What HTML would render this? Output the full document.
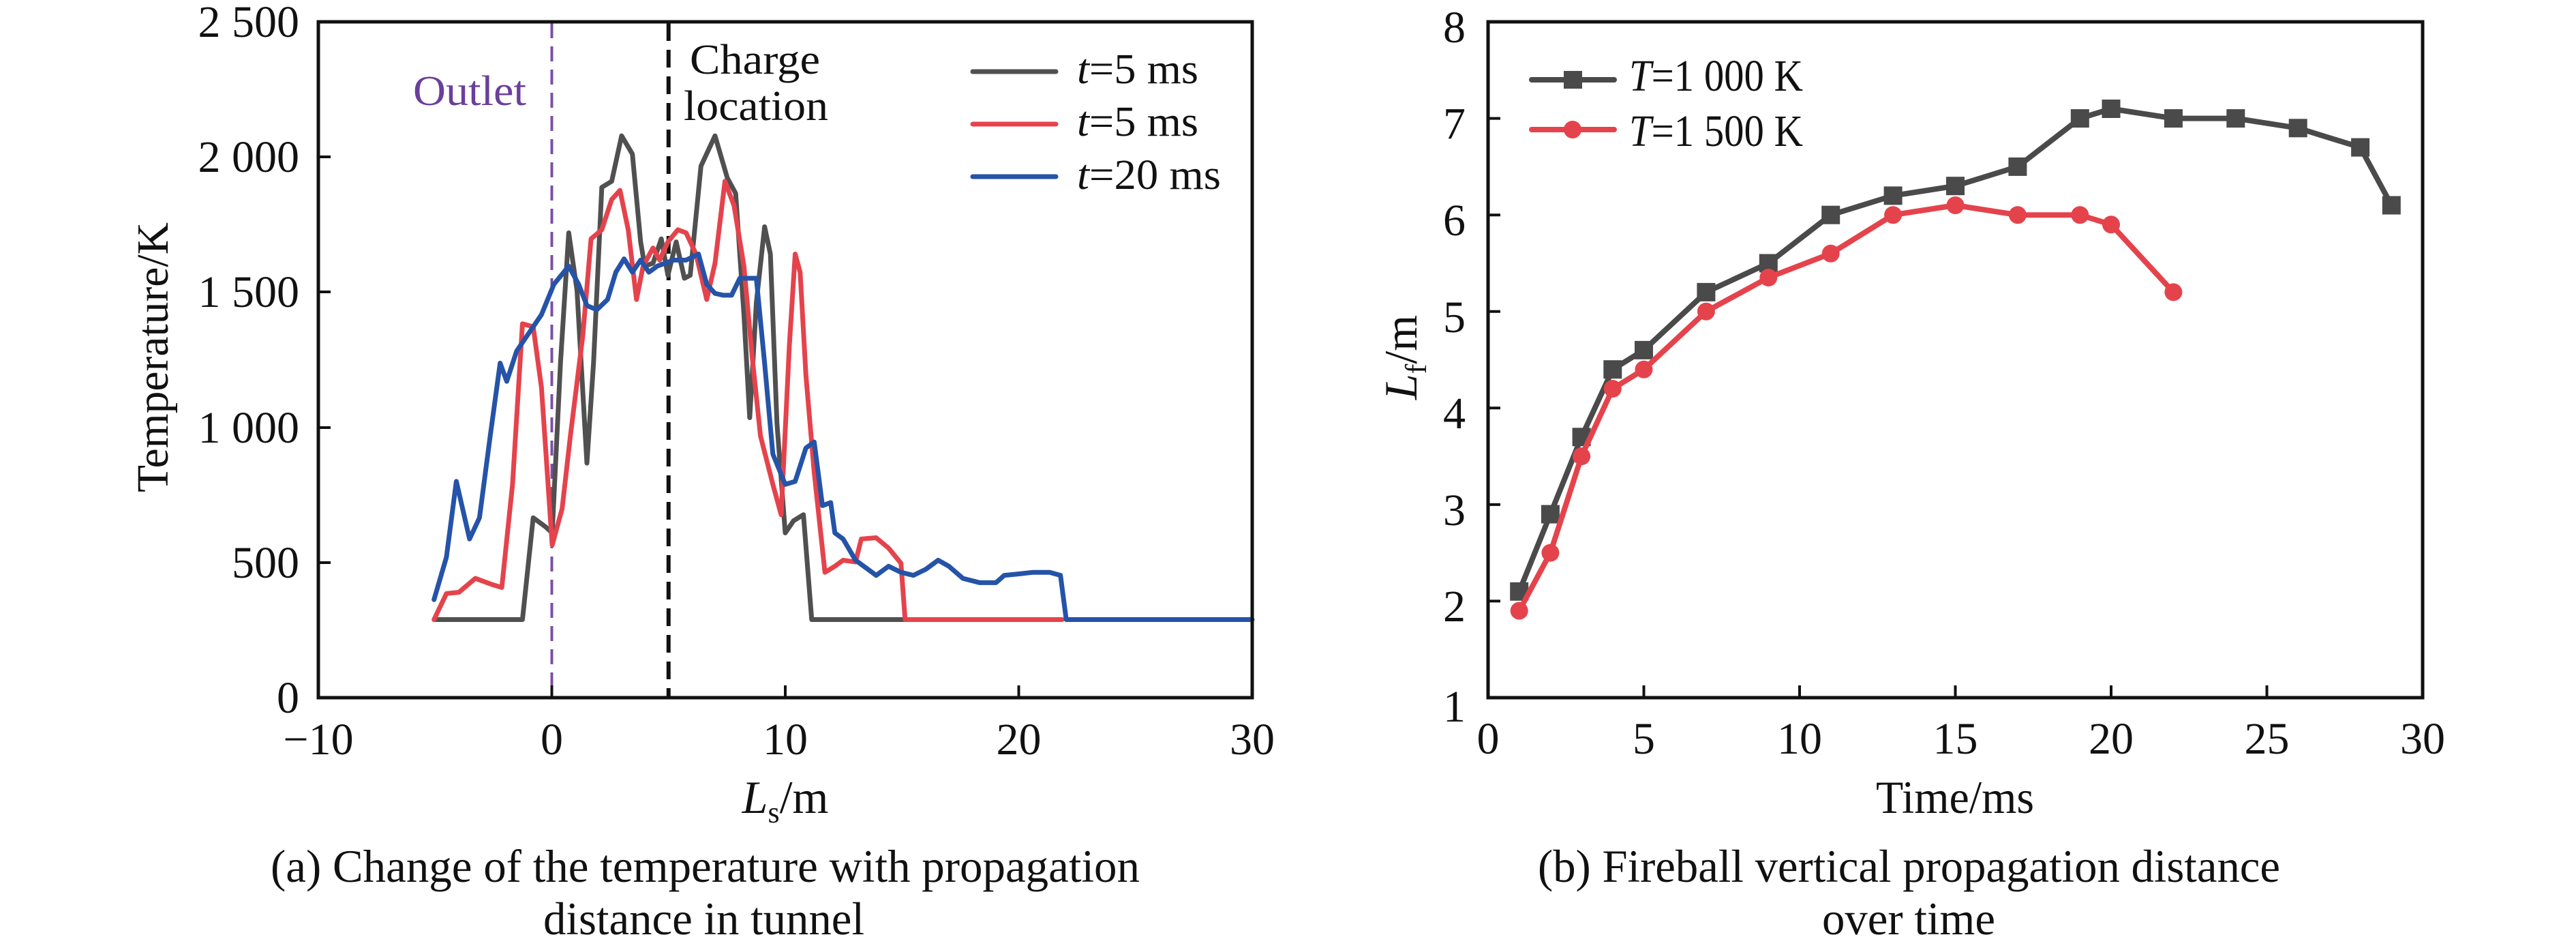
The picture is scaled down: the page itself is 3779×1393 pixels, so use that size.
<!DOCTYPE html>
<html><head><meta charset="utf-8"><style>
html,body{margin:0;padding:0;background:#fff;}
svg{display:block;}
text{font-family:"Liberation Serif",serif;fill:#111;}
</style></head><body>
<svg width="3779" height="1393" viewBox="0 0 3779 1393" xmlns="http://www.w3.org/2000/svg">
<rect width="3779" height="1393" fill="#fff"/>

<line x1="809.5" y1="34" x2="809.5" y2="1021" stroke="#7b4fa6" stroke-width="4" stroke-dasharray="22,12"/>
<line x1="980.75" y1="34" x2="980.75" y2="1021" stroke="#111" stroke-width="6" stroke-dasharray="26,13"/>

<g transform="matrix(1.2124 0 0 0.889 0.2 -0.9)" fill="none" stroke-linejoin="round" stroke-linecap="round">
<path vector-effect="non-scaling-stroke" stroke="#505050" stroke-width="7" d="M527,1023 L632,1023 L645,855 L660,870 L668,880 L678,600 L688,385 L698,480 L710,765 L718,600 L728,310 L740,300 L752,225 L765,255 L775,400 L780,440 L790,435 L800,395 L808,455 L818,400 L828,460 L835,455 L848,275 L865,225 L880,295 L890,320 L900,520 L907,690 L915,500 L925,375 L932,420 L940,700 L950,880 L960,860 L972,850 L982,1023 L1095,1023"/>
<path vector-effect="non-scaling-stroke" stroke="#e5434c" stroke-width="7" d="M525,1023 L540,980 L555,978 L575,955 L595,965 L607,970 L620,800 L632,535 L645,540 L655,640 L668,900 L680,840 L690,720 L705,555 L715,395 L728,380 L740,330 L750,315 L760,380 L770,495 L778,440 L790,410 L798,430 L808,400 L820,380 L830,385 L842,420 L855,495 L865,435 L877,300 L888,340 L900,440 L910,590 L920,720 L935,800 L945,850 L955,570 L962,420 L968,450 L975,620 L985,780 L998,945 L1010,935 L1020,925 L1035,928 L1042,890 L1060,888 L1075,905 L1090,930 L1095,1023 L1285,1023"/>
<path vector-effect="non-scaling-stroke" stroke="#2553a8" stroke-width="7" d="M525,990 L540,920 L552,795 L568,890 L580,855 L593,720 L605,600 L613,630 L625,580 L640,550 L655,520 L670,470 L688,440 L700,470 L710,505 L722,512 L735,495 L745,450 L755,428 L765,450 L775,430 L785,450 L795,440 L805,435 L815,430 L830,430 L845,420 L855,470 L865,485 L875,488 L885,488 L895,460 L915,460 L925,600 L935,750 L950,800 L962,795 L975,740 L985,730 L995,835 L1005,830 L1010,880 L1020,890 L1035,925 L1050,940 L1060,950 L1075,935 L1090,945 L1105,950 L1120,940 L1135,925 L1148,935 L1165,955 L1185,962 L1205,962 L1215,950 L1230,948 L1250,945 L1270,945 L1283,950 L1290,1023 L1515,1023"/>
</g>

<rect x="467" y="32" width="1370" height="991" fill="none" stroke="#111" stroke-width="5"/>
<g stroke="#111" stroke-width="4">
<line x1="809.5" y1="1023" x2="809.5" y2="1005"/>
<line x1="1152" y1="1023" x2="1152" y2="1005"/>
<line x1="1494.5" y1="1023" x2="1494.5" y2="1005"/>
<line x1="467" y1="825" x2="485" y2="825"/>
<line x1="467" y1="627" x2="485" y2="627"/>
<line x1="467" y1="428" x2="485" y2="428"/>
<line x1="467" y1="230" x2="485" y2="230"/>
</g>
<g font-size="66" text-anchor="end">
<text x="439" y="1045">0</text>
<text x="439" y="847">500</text>
<text x="439" y="649">1 000</text>
<text x="439" y="450">1 500</text>
<text x="439" y="252">2 000</text>
<text x="439" y="54">2 500</text>
</g>
<g font-size="66" text-anchor="middle">
<text x="467" y="1106">−10</text>
<text x="809.5" y="1106">0</text>
<text x="1152" y="1106">10</text>
<text x="1494.5" y="1106">20</text>
<text x="1837" y="1106">30</text>
</g>
<text x="1152" y="1192" font-size="68" text-anchor="middle"><tspan font-style="italic">L</tspan><tspan font-size="44" dy="14">s</tspan><tspan dy="-14">/m</tspan></text>
<text transform="translate(246,524) rotate(-90)" font-size="66" text-anchor="middle" textLength="396" lengthAdjust="spacingAndGlyphs">Temperature/K</text>

<text x="606" y="154" font-size="62" style="fill:#6a3f9c" textLength="166" lengthAdjust="spacingAndGlyphs">Outlet</text>
<text x="1012" y="108" font-size="62" textLength="191" lengthAdjust="spacingAndGlyphs">Charge</text>
<text x="1003" y="176" font-size="62" textLength="212" lengthAdjust="spacingAndGlyphs">location</text>

<g stroke-width="7" stroke-linecap="round">
<line x1="1427" y1="105" x2="1549" y2="105" stroke="#505050"/>
<line x1="1427" y1="182" x2="1549" y2="182" stroke="#e5434c"/>
<line x1="1427" y1="259" x2="1549" y2="259" stroke="#2553a8"/>
</g>
<g font-size="62">
<text x="1580" y="122" textLength="178" lengthAdjust="spacingAndGlyphs"><tspan font-style="italic">t</tspan>=5 ms</text>
<text x="1580" y="199" textLength="178" lengthAdjust="spacingAndGlyphs"><tspan font-style="italic">t</tspan>=5 ms</text>
<text x="1580" y="277" textLength="211" lengthAdjust="spacingAndGlyphs"><tspan font-style="italic">t</tspan>=20 ms</text>
</g>

<text x="397" y="1293" font-size="68" textLength="1275" lengthAdjust="spacingAndGlyphs">(a) Change of the temperature with propagation</text>
<text x="797" y="1370" font-size="68" textLength="471" lengthAdjust="spacingAndGlyphs">distance in tunnel</text>

<rect x="2183" y="32" width="1371" height="991" fill="none" stroke="#111" stroke-width="5"/>
<g stroke="#111" stroke-width="4">
<line x1="2411.5" y1="1023" x2="2411.5" y2="1005"/>
<line x1="2640" y1="1023" x2="2640" y2="1005"/>
<line x1="2868.5" y1="1023" x2="2868.5" y2="1005"/>
<line x1="3097" y1="1023" x2="3097" y2="1005"/>
<line x1="3325.5" y1="1023" x2="3325.5" y2="1005"/>
<line x1="2183" y1="881.4" x2="2201" y2="881.4"/>
<line x1="2183" y1="739.9" x2="2201" y2="739.9"/>
<line x1="2183" y1="598.3" x2="2201" y2="598.3"/>
<line x1="2183" y1="456.7" x2="2201" y2="456.7"/>
<line x1="2183" y1="315.2" x2="2201" y2="315.2"/>
<line x1="2183" y1="173.6" x2="2201" y2="173.6"/>
</g>
<g font-size="66" text-anchor="end">
<text x="2150" y="1058">1</text>
<text x="2150" y="911">2</text>
<text x="2150" y="770">3</text>
<text x="2150" y="628">4</text>
<text x="2150" y="487">5</text>
<text x="2150" y="345">6</text>
<text x="2150" y="203">7</text>
<text x="2150" y="62">8</text>
</g>
<g font-size="66" text-anchor="middle">
<text x="2183" y="1105">0</text>
<text x="2411.5" y="1105">5</text>
<text x="2640" y="1105">10</text>
<text x="2868.5" y="1105">15</text>
<text x="3097" y="1105">20</text>
<text x="3325.5" y="1105">25</text>
<text x="3554" y="1105">30</text>
</g>
<text x="2868" y="1192" font-size="68" text-anchor="middle" textLength="232" lengthAdjust="spacingAndGlyphs">Time/ms</text>
<text transform="translate(2078,524) rotate(-90)" font-size="68" text-anchor="middle"><tspan font-style="italic">L</tspan><tspan font-size="44" dy="14">f</tspan><tspan dy="-14">/m</tspan></text>

<polyline fill="none" stroke="#4a4a4a" stroke-width="8" stroke-linejoin="round" points="2228.7,867.3 2274.4,754 2320.1,640.8 2365.8,541.7 2411.5,513.4 2502.9,428.4 2594.3,386 2685.7,315.2 2777.1,286.9 2868.5,272.7 2959.9,244.4 3051.3,173.6 3097,159.5 3188.4,173.6 3279.8,173.6 3371.2,187.8 3462.6,216.1 3508.3,301"/>
<g fill="#4a4a4a">
<rect x="2215.2" y="853.8" width="27" height="27"/><rect x="2260.9" y="740.5" width="27" height="27"/><rect x="2306.6" y="627.3" width="27" height="27"/><rect x="2352.3" y="528.2" width="27" height="27"/><rect x="2398" y="499.9" width="27" height="27"/><rect x="2489.4" y="414.9" width="27" height="27"/><rect x="2580.8" y="372.5" width="27" height="27"/><rect x="2672.2" y="301.7" width="27" height="27"/><rect x="2763.6" y="273.4" width="27" height="27"/><rect x="2855" y="259.2" width="27" height="27"/><rect x="2946.4" y="230.9" width="27" height="27"/><rect x="3037.8" y="160.1" width="27" height="27"/><rect x="3083.5" y="146" width="27" height="27"/><rect x="3174.9" y="160.1" width="27" height="27"/><rect x="3266.3" y="160.1" width="27" height="27"/><rect x="3357.7" y="174.3" width="27" height="27"/><rect x="3449.1" y="202.6" width="27" height="27"/><rect x="3494.8" y="287.5" width="27" height="27"/>
</g>
<polyline fill="none" stroke="#e5434c" stroke-width="8" stroke-linejoin="round" points="2228.7,895.6 2274.4,810.6 2320.1,669.1 2365.8,570 2411.5,541.7 2502.9,456.7 2594.3,407 2685.7,371.8 2777.1,315.2 2868.5,301 2959.9,315.2 3051.3,315.2 3097,329.3 3188.4,428.4"/>
<g fill="#e5434c">
<circle cx="2228.7" cy="895.6" r="13"/><circle cx="2274.4" cy="810.6" r="13"/><circle cx="2320.1" cy="669.1" r="13"/><circle cx="2365.8" cy="570" r="13"/><circle cx="2411.5" cy="541.7" r="13"/><circle cx="2502.9" cy="456.7" r="13"/><circle cx="2594.3" cy="407" r="13"/><circle cx="2685.7" cy="371.8" r="13"/><circle cx="2777.1" cy="315.2" r="13"/><circle cx="2868.5" cy="301" r="13"/><circle cx="2959.9" cy="315.2" r="13"/><circle cx="3051.3" cy="315.2" r="13"/><circle cx="3097" cy="329.3" r="13"/><circle cx="3188.4" cy="428.4" r="13"/>
</g>

<line x1="2247" y1="117" x2="2368" y2="117" stroke="#4a4a4a" stroke-width="8" stroke-linecap="round"/>
<rect x="2294" y="104" width="27" height="26" fill="#4a4a4a"/>
<line x1="2247" y1="190" x2="2368" y2="190" stroke="#e5434c" stroke-width="8" stroke-linecap="round"/>
<circle cx="2307" cy="190" r="13" fill="#e5434c"/>
<g font-size="66">
<text x="2390" y="133" textLength="255" lengthAdjust="spacingAndGlyphs"><tspan font-style="italic">T</tspan>=1 000 K</text>
<text x="2390" y="214" textLength="255" lengthAdjust="spacingAndGlyphs"><tspan font-style="italic">T</tspan>=1 500 K</text>
</g>

<text x="2256" y="1293" font-size="68" textLength="1089" lengthAdjust="spacingAndGlyphs">(b) Fireball vertical propagation distance</text>
<text x="2673" y="1370" font-size="68" textLength="254" lengthAdjust="spacingAndGlyphs">over time</text>
</svg>
</body></html>
